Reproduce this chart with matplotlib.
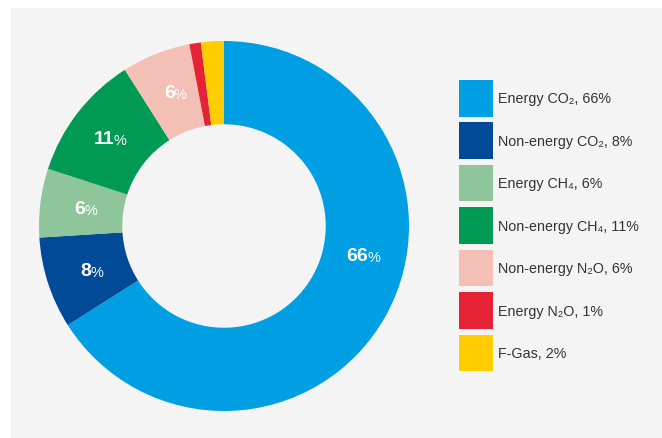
import numpy as np
import matplotlib.pyplot as plt
from matplotlib.patches import Rectangle, Patch

plt.rcParams['font.family'] = ['Liberation Sans', 'DejaVu Sans']

labels = ["Energy CO₂", "Non-energy CO₂", "Energy CH₄", "Non-energy CH₄",
          "Non-energy N₂O", "Energy N₂O", "F-Gas"]
shares = [66, 8, 6, 11, 6, 1, 2]
colors = ["#009fe3", "#004a97", "#8fc59a", "#009a54", "#f4c0b5", "#e52334", "#ffcc00"]
# which slices get a label inside the ring
show_label = [True, True, True, True, True, False, False]

W, H = 662, 439
fig = plt.figure(figsize=(W / 100, H / 100), dpi=100)
fig.patch.set_facecolor("white")
fig.patches.append(Rectangle((11 / W, 0), 1 - 11 / W, (H - 9) / H,
                             transform=fig.transFigure, facecolor="#f4f4f4",
                             edgecolor="none", zorder=-5))

cx, cy, R = 224, 227, 185
ax = fig.add_axes([(cx - R) / W, (H - cy - R) / H, 2 * R / W, 2 * R / H])
ax.set_zorder(2)
ax.patch.set_visible(False)

wedges, _ = ax.pie(shares, colors=colors, startangle=90, counterclock=False,
                   radius=1, wedgeprops=dict(width=0.45, linewidth=0))
ax.set_xlim(-1, 1)
ax.set_ylim(-1, 1)
ax.axis("off")

r_lab = 0.775
for i, w in enumerate(wedges):
    if not show_label[i]:
        continue
    ang = (w.theta1 + w.theta2) / 2
    if i == 0:
        ang = -12  # big slice label sits just below the right-hand side
    x = r_lab * np.cos(np.radians(ang))
    y = r_lab * np.sin(np.radians(ang))
    ax.annotate(str(shares[i]), (x, y), xytext=(2.5, 0), textcoords="offset points",
                ha="right", va="center", color="white", fontsize=14, fontweight="bold")
    ax.annotate("%", (x, y), xytext=(2, -1.2), textcoords="offset points",
                ha="left", va="center", color="white", fontsize=10.5)

handles = [Patch(facecolor=c, edgecolor="none") for c in colors]
leg_labels = [f"{l}, {s}%" for l, s in zip(labels, shares)]
fig.legend(handles, leg_labels, loc="upper left", bbox_to_anchor=(459 / W, 1 - 81 / H),
           frameon=False, fontsize=10.3, handlelength=2.4, handleheight=3.55,
           labelspacing=0.415, handletextpad=0.35, borderpad=0, borderaxespad=0,
           labelcolor="#333333")

plt.savefig("out.png", dpi=100)
